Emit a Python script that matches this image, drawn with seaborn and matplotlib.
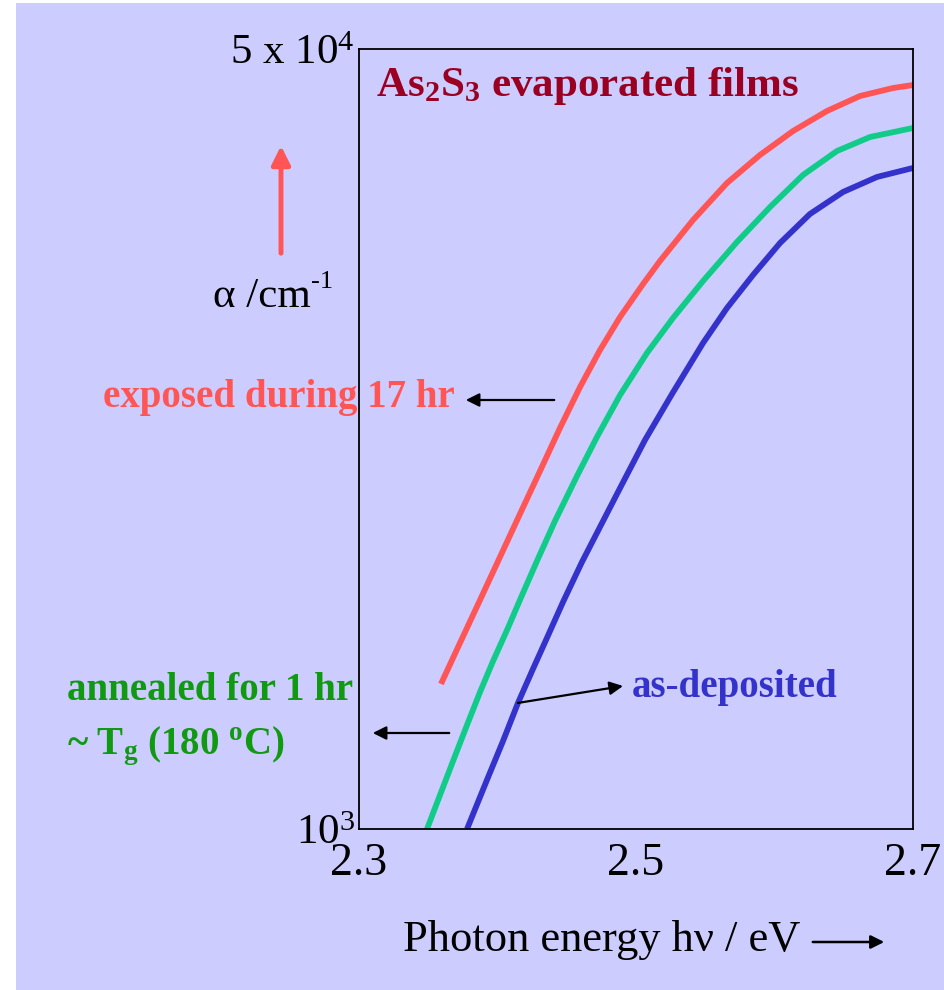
import numpy as np
import pandas as pd
import matplotlib
matplotlib.use('Agg')
import matplotlib.pyplot as plt
from matplotlib.patches import Rectangle
import seaborn as sns

# Absorption edge of As2S3 films
energy_exposed = [2.3592, 2.3729, 2.3874, 2.4018, 2.4162, 2.4307, 2.4451, 2.4596, 2.4740, 2.4885,
                  2.5051, 2.5173, 2.5412, 2.5657, 2.5895, 2.6134, 2.6379, 2.6617, 2.6856, 2.7]
alpha_exposed = [2070, 2542, 3154, 3913, 4854, 6022, 7472, 9178, 11046, 13039,
                 15385, 17266, 21210, 25535, 29381, 33140, 36640, 39496, 41115, 41737]

energy_annealed = [2.3491, 2.3585, 2.3679, 2.3780, 2.3874, 2.3968, 2.4069, 2.4162, 2.4285, 2.4415,
                   2.4574, 2.4718, 2.4885, 2.5079, 2.5267, 2.5484, 2.5729, 2.5968, 2.6206, 2.6451,
                   2.6690, 2.7]
alpha_annealed = [1000, 1186, 1406, 1685, 1988, 2322, 2713, 3154, 3835, 4687,
                  5873, 7142, 8817, 10884, 12973, 15618, 18993, 22638, 26581, 29977,
                  32157, 33643]

energy_deposited = [2.3780, 2.3924, 2.4040, 2.4148, 2.4256, 2.4357, 2.4473, 2.4610, 2.4740, 2.4885,
                    2.5065, 2.5260, 2.5484, 2.5657, 2.5845, 2.6040, 2.6256, 2.6495, 2.6740, 2.7]
alpha_deposited = [1000, 1279, 1555, 1882, 2231, 2607, 3122, 3816, 4548, 5530,
                   7036, 8861, 11444, 13640, 16096, 18898, 21856, 24408, 26316, 27531]

x_ticks = [2.3, 2.5, 2.7]
x_labels = ['2.3', '2.5', '2.7']
y_ticks = [1e3, 5e4]
y_labels = ['10$^3$', '5 x 10$^4$']

BG = '#CCCCFF'
RED = '#FF5555'
GREEN = '#11CC88'
BLUE = '#3333CC'

sns.set_style('white')
plt.rcParams['font.family'] = ['Liberation Serif', 'DejaVu Serif']
plt.rcParams['mathtext.fontset'] = 'custom'
plt.rcParams['mathtext.rm'] = 'Liberation Serif'
plt.rcParams['mathtext.bf'] = 'Liberation Serif:bold'
plt.rcParams['mathtext.it'] = 'Liberation Serif:italic'
plt.rcParams['text.color'] = 'black'
plt.rcParams['xtick.color'] = 'black'
plt.rcParams['ytick.color'] = 'black'

W, H = 945, 990


def fp(x, y):
    # pixel position (from top-left) -> figure fraction
    return (x / W, 1 - y / H)


fig = plt.figure(figsize=(W / 100, H / 100), dpi=100, facecolor='white')
fig.patches.append(Rectangle((16 / W, 0), 1 - 16 / W, 987 / H, transform=fig.transFigure,
                             facecolor=BG, edgecolor='none', zorder=-10))
ax = fig.add_axes([359 / W, 1 - 829 / H, 554 / W, 780 / H])
ax.set_facecolor(BG)

line_kw = dict(lw=4.2, ax=ax, sort=False, solid_capstyle='butt', solid_joinstyle='round')
sns.lineplot(x=energy_exposed, y=alpha_exposed, color=RED, **line_kw)
sns.lineplot(x=energy_annealed, y=alpha_annealed, color=GREEN, **line_kw)
sns.lineplot(x=energy_deposited, y=alpha_deposited, color=BLUE, **line_kw)

ax.set_yscale('log')
ax.set_xlim(2.3, 2.7)
ax.set_ylim(1e3, 5e4)
ax.set_xticks(x_ticks)
ax.set_xticklabels(x_labels, fontsize=33)
ax.minorticks_off()
ax.set_yticks(y_ticks)
ax.set_yticklabels(y_labels, fontsize=31)
ax.tick_params(axis='both', length=0)
ax.tick_params(axis='x', pad=10)
ax.tick_params(axis='y', pad=3)
for s in ax.spines.values():
    s.set_color('black')
    s.set_linewidth(1.3)
ax.set_xlabel('')
ax.set_ylabel('')

# Title inside the box
fig.text(*fp(376, 86), r'As$_\mathbf{2}$S$_\mathbf{3}$ evaporated films', color='#990022',
         fontsize=31, fontweight='bold', ha='left', va='center')

# y-axis label with red arrow
fig.text(*fp(311, 297), 'α /cm', fontsize=31, ha='right', va='center')
fig.text(*fp(311, 282), '-1', fontsize=19, ha='left', va='center')
ax.annotate('', xy=fp(281, 143), xytext=fp(281, 256), xycoords='figure fraction',
            textcoords='figure fraction',
            arrowprops=dict(arrowstyle='-|>', color=RED, lw=3.5, mutation_scale=28))

# curve labels
fig.text(*fp(103, 398), 'exposed during 17 hr', color=RED, fontsize=28,
         fontweight='bold', ha='left', va='center')
ax.annotate('', xy=fp(463, 400), xytext=fp(557, 400), xycoords='figure fraction',
            textcoords='figure fraction',
            arrowprops=dict(arrowstyle='-|>', color='black', lw=1.6, mutation_scale=20))

fig.text(*fp(67, 690), 'annealed for 1 hr', color='#119911', fontsize=28,
         fontweight='bold', ha='left', va='center')
fig.text(*fp(67, 746), r'~ T$_\mathbf{g}$ (180 $^\mathbf{o}$C)', color='#119911', fontsize=28,
         fontweight='bold', ha='left', va='center')
ax.annotate('', xy=fp(370, 733), xytext=fp(452, 733), xycoords='figure fraction',
            textcoords='figure fraction',
            arrowprops=dict(arrowstyle='-|>', color='black', lw=1.6, mutation_scale=20))

fig.text(*fp(632, 688), 'as-deposited', color=BLUE, fontsize=28,
         fontweight='bold', ha='left', va='center')
ax.annotate('', xy=fp(623, 686), xytext=(energy_deposited[3], alpha_deposited[3]),
            xycoords='figure fraction', textcoords='data',
            arrowprops=dict(arrowstyle='-|>', color='black', lw=1.6, mutation_scale=20,
                            shrinkA=0, shrinkB=0))

# x-axis label with arrow
fig.text(*fp(403, 940), 'Photon energy hν / eV', fontsize=32, ha='left', va='center')
ax.annotate('', xy=fp(887, 942), xytext=fp(810, 942), xycoords='figure fraction',
            textcoords='figure fraction',
            arrowprops=dict(arrowstyle='-|>', color='black', lw=1.8, mutation_scale=20))

fig.savefig('out.png', dpi=100, facecolor='white')
